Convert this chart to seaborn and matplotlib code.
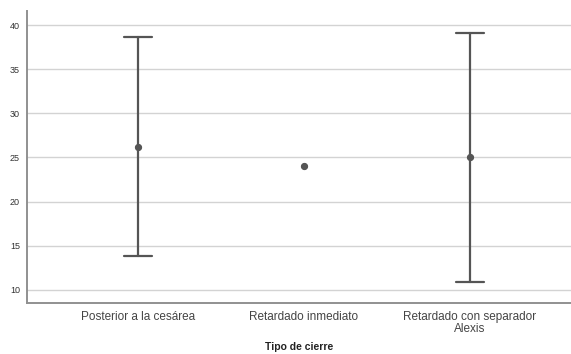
import numpy as np
import pandas as pd
import matplotlib
matplotlib.use("Agg")
import matplotlib.pyplot as plt
import seaborn as sns

categories = ["Posterior a la cesárea", "Retardado inmediato", "Retardado con separador\nAlexis"]
centers = [26.2, 24.0, 25.0]
lowers = [13.8, 24.0, 10.9]
uppers = [38.6, 24.0, 39.1]
yticks = [10, 15, 20, 25, 30, 35, 40]

rows = []
for c, m, lo, hi in zip(categories, centers, lowers, uppers):
    for v in (lo, m, hi):
        rows.append({"cat": c, "val": v})
df = pd.DataFrame(rows)

sns.set_style("white")
plt.rcParams['font.family'] = ['Liberation Sans', 'DejaVu Sans']

fig = plt.figure(figsize=(5.71, 3.54), dpi=100)
ax = fig.add_axes([0.047, 0.144, 0.953, 0.825])

sns.pointplot(data=df, x="cat", y="val", order=categories, estimator="median",
              errorbar=("pi", 100), color="#555555", linestyle="none",
              markersize=3.2, capsize=0.17, err_kws={"linewidth": 1.6}, ax=ax)

# hide error-bar pieces of groups without spread
flat = [i for i in range(len(categories)) if lowers[i] == uppers[i]]
for ln in list(ax.lines):
    yd = np.asarray(ln.get_ydata(), dtype=float)
    xd = np.asarray(ln.get_xdata(), dtype=float)
    ok = np.isfinite(yd) & np.isfinite(xd)
    if ok.sum() < 2 or ln.get_marker() not in (None, "None", "", " "):
        continue
    if np.ptp(yd[ok]) == 0:
        idx = int(round(np.mean(xd[ok])))
        if idx in flat:
            ln.remove()

ax.set_ylim(8.5, 41.6)
ax.set_xlim(-0.67, 2.61)
ax.set_yticks(yticks)
ax.set_yticklabels([str(t) for t in yticks], fontsize=6.5, color="#333333")
ax.tick_params(axis="y", length=0, pad=5)
ax.tick_params(axis="x", length=0, pad=6, labelsize=8.5, labelcolor="#444444")
for lab in ax.get_xticklabels():
    lab.set_linespacing(0.95)
ax.grid(axis="y", color="#d3d3d3", linewidth=1.0)
ax.set_axisbelow(True)
for s in ["top", "right"]:
    ax.spines[s].set_visible(False)
for s in ["left", "bottom"]:
    ax.spines[s].set_color("#909090")
    ax.spines[s].set_linewidth(1.4)
ax.set_ylabel("")
ax.set_xlabel("Tipo de cierre", fontsize=7.5, fontweight="bold", color="#222222")
ax.xaxis.set_label_coords(0.5, -0.133)

fig.savefig("out.png", dpi=100)
